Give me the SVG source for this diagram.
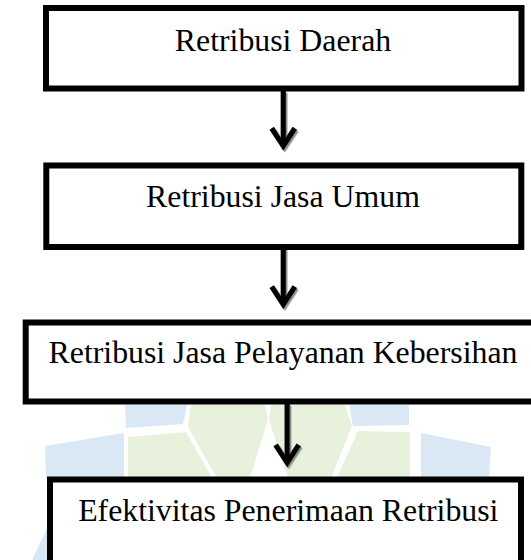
<svg xmlns="http://www.w3.org/2000/svg" width="531" height="560" viewBox="0 0 531 560">
<defs>
<style>
.box{fill:#ffffff;stroke:#000000;stroke-width:6}
.lbl{font-family:"Liberation Serif","Times New Roman",serif;font-size:31.8px;fill:#000000;text-anchor:middle}
.conn{fill:none;stroke:#000000;stroke-width:5.3}
.wb{fill:#d9e8f4}
.wg{fill:#e7f1dc}
</style>
<marker id="head" markerUnits="userSpaceOnUse" orient="auto" refX="0" refY="0" markerWidth="40" markerHeight="40" overflow="visible">
<path d="M-17.8,-11.6 L0,0 L-17.8,11.6" fill="none" stroke="#000000" stroke-width="5.3" stroke-linejoin="miter" stroke-miterlimit="10"/>
</marker>
<filter id="shadow" filterUnits="userSpaceOnUse" x="0" y="0" width="531" height="560">
<feDropShadow dx="1.5" dy="1.8" stdDeviation="0.6" flood-color="#808080" flood-opacity="0.9"/>
</filter>
</defs>
<rect width="531" height="560" fill="#ffffff"/>
<g id="watermark">
<polygon class="wb" points="125,405 187,405 183,424 126,428"/>
<polygon class="wb" points="349,405 409,405 409,425 353,426"/>
<polygon class="wb" points="45,446 124,433 124,478 46,478"/>
<polygon class="wb" points="421,433 491,447 489,478 421,478"/>
<polygon class="wb" points="48,526 48,560 32,560"/>
<polygon class="wg" points="191,405 265,405 268,419 250,478 217,478 188,427"/>
<polygon class="wg" points="271,405 345,405 352,426 331,478 288,478 269,420"/>
<polygon class="wg" points="128,437 186,432 212,478 128,478"/>
<polygon class="wg" points="358,431 410,432 410,478 337,478"/>
</g>
<g id="connectors" filter="url(#shadow)">
<path class="conn" d="M283.3,91 L283.3,146" marker-end="url(#head)"/>
<path class="conn" d="M283.3,248 L283.3,304.4" marker-end="url(#head)"/>
<path class="conn" d="M287.2,404 L287.2,462.7" marker-end="url(#head)"/>
</g>
<g id="node1">
<rect class="box" x="46" y="8" width="475.5" height="80.5"/>
<text class="lbl" x="283" y="50.7">Retribusi Daerah</text>
</g>
<g id="node2">
<rect class="box" x="46.3" y="165.5" width="475" height="81.5"/>
<text class="lbl" x="283" y="207.3">Retribusi Jasa Umum</text>
</g>
<g id="node3">
<rect class="box" x="25.7" y="322.5" width="520" height="79"/>
<text class="lbl" x="283" y="363.3">Retribusi Jasa Pelayanan Kebersihan</text>
</g>
<g id="node4">
<rect class="box" x="50" y="479.5" width="471" height="100"/>
<text class="lbl" x="288.3" y="521">Efektivitas Penerimaan Retribusi</text>
</g>
</svg>
